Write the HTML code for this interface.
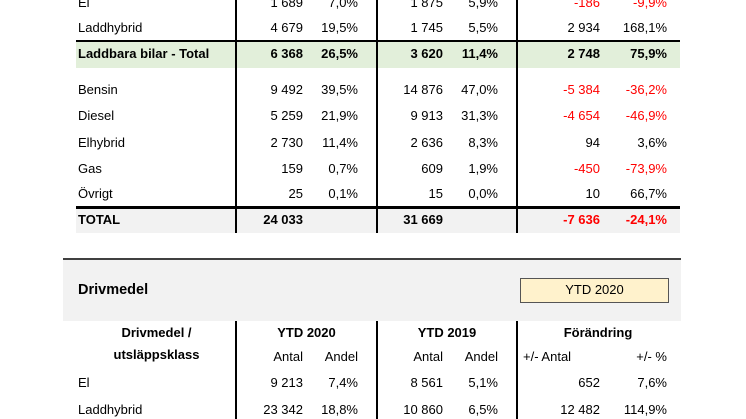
<!DOCTYPE html><html><head><style>
body{margin:0;width:746px;height:419px;background:#fff;position:relative;overflow:hidden;font-family:"Liberation Sans",sans-serif;font-size:13px;color:#000}
.a{position:absolute;white-space:nowrap;line-height:16px}
.r{text-align:right}
.b{font-weight:bold}
.red{color:#f00}
.v{position:absolute;width:2px;background:#000}
</style></head><body>
<div style="position:absolute;left:76px;top:42px;width:604px;height:26px;background:#e2efda"></div>
<div style="position:absolute;left:76px;top:40px;width:604px;height:2px;background:#000"></div>
<div style="position:absolute;left:76px;top:209px;width:604px;height:24px;background:#f2f2f2"></div>
<div style="position:absolute;left:76px;top:206px;width:604px;height:3px;background:#000"></div>
<div style="position:absolute;left:63px;top:258px;width:618px;height:2px;background:#404040"></div>
<div style="position:absolute;left:63px;top:260px;width:618px;height:61px;background:#f2f2f2"></div>
<div style="position:absolute;left:520px;top:278px;width:147px;height:23px;background:#fff2cc;border:1px solid #555"></div>
<div class="v" style="left:235px;top:0;height:233px"></div>
<div class="v" style="left:376px;top:0;height:233px"></div>
<div class="v" style="left:516px;top:0;height:233px"></div>
<div class="v" style="left:235px;top:321px;height:98px"></div>
<div class="v" style="left:376px;top:321px;height:98px"></div>
<div class="v" style="left:516px;top:321px;height:98px"></div>
<div id="t"></div>
<script>
var rows=[
[-5,"El","1 689","7,0%","1 875","5,9%","-186","-9,9%",0,1],
[20,"Laddhybrid","4 679","19,5%","1 745","5,5%","2 934","168,1%",0,0],
[46,"Laddbara bilar - Total","6 368","26,5%","3 620","11,4%","2 748","75,9%",1,0],
[82,"Bensin","9 492","39,5%","14 876","47,0%","-5 384","-36,2%",0,1],
[108,"Diesel","5 259","21,9%","9 913","31,3%","-4 654","-46,9%",0,1],
[135,"Elhybrid","2 730","11,4%","2 636","8,3%","94","3,6%",0,0],
[161,"Gas","159","0,7%","609","1,9%","-450","-73,9%",0,1],
[186,"Övrigt","25","0,1%","15","0,0%","10","66,7%",0,0],
[212,"TOTAL","24 033","","31 669","","-7 636","-24,1%",1,1],
[349,"","Antal","Andel","Antal","Andel","","+/- %",0,0],
[375,"El","9 213","7,4%","8 561","5,1%","652","7,6%",0,0],
[402,"Laddhybrid","23 342","18,8%","10 860","6,5%","12 482","114,9%",0,0]];
var R=[303,358,443,498,600,667],h="";
rows.forEach(function(r){var c=(r[8]?" b":"");
h+='<div class="a'+c+'" style="left:78px;top:'+r[0]+'px">'+r[1]+'</div>';
for(var i=0;i<6;i++){var red=(r[9]&&i>=4)?" red":"";
h+='<div class="a r'+c+red+'" style="right:'+(746-R[i])+'px;top:'+r[0]+'px">'+r[i+2]+'</div>';}});
h+='<div class="a" style="left:523px;top:349px">+/- Antal</div>';
h+='<div class="a b" style="left:78px;top:282px;font-size:14.5px">Drivmedel</div>';
h+='<div class="a" style="left:520px;top:282px;width:149px;text-align:center">YTD 2020</div>';
h+='<div class="a b" style="left:78px;top:325px;width:157px;text-align:center">Drivmedel /</div>';
h+='<div class="a b" style="left:78px;top:347px;width:157px;text-align:center">utsläppsklass</div>';
h+='<div class="a b" style="left:237px;top:325px;width:139px;text-align:center">YTD 2020</div>';
h+='<div class="a b" style="left:378px;top:325px;width:138px;text-align:center">YTD 2019</div>';
h+='<div class="a b" style="left:518px;top:325px;width:160px;text-align:center">Förändring</div>';
document.getElementById("t").innerHTML=h;
</script>
</body></html>
